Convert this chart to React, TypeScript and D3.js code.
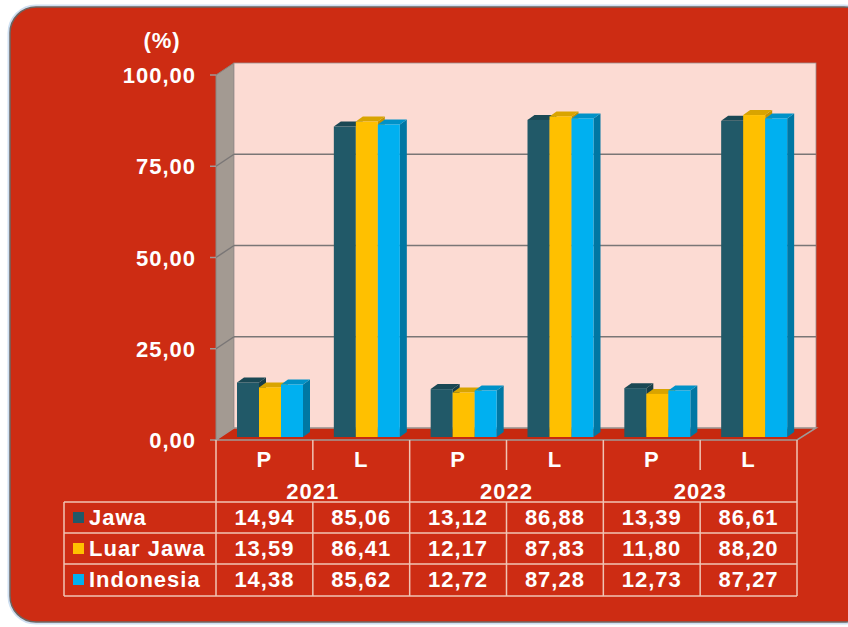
import React from 'react';
import * as d3 from 'd3';

const years = ['2021', '2022', '2023'];
const groups = ['P', 'L'];
const series = ['Jawa', 'Luar Jawa', 'Indonesia'];
const jawa = [14.94, 85.06, 13.12, 86.88, 13.39, 86.61];
const luarJawa = [13.59, 86.41, 12.17, 87.83, 11.80, 88.20];
const indonesia = [14.38, 85.62, 12.72, 87.28, 12.73, 87.27];
const yTicks = [0, 25, 50, 75, 100];

const colors = ['#215968', '#ffc000', '#00b0f0'];
const sideColors = ['#163e49', '#c49200', '#0077a3'];
const topColors = ['#1a4854', '#d9a400', '#0092c8'];

const locale = d3.formatLocale({ decimal: ',', thousands: '.', grouping: [3], currency: ['', ''] });
const fmt = locale.format('.2f');

const W = 848, H = 627;
const left = 216, right = 797, dX = 18, dY = -12;
const FONT = '"Liberation Sans", Arial, sans-serif';
const RED = '#cd2c13';
const LINE = '#f0c4b4';

export default function App() {
  const data = [jawa, luarJawa, indonesia];
  const cats = d3.range(6);
  const x = d3.scaleBand<number>().domain(cats).range([left, right]);
  const yFront = d3.scaleLinear().domain([0, 100]).range([440, 75]);
  const yBar = d3.scaleLinear().domain([0, 100]).range([437, 72]);
  const inner = d3.scaleBand<number>().domain([0, 1, 2]).range([21, 87]);
  const bw = inner.bandwidth();
  const bdx = 7, bdy = -5;
  const cw = x.bandwidth();

  const rowsY = [502, 533, 564, 596];
  const pts = (a: number[][]) => a.map(p => p.join(',')).join(' ');

  return (
    <svg width={W} height={H} style={{ position: 'absolute', left: 0, top: 0 }} fontFamily={FONT} fontWeight="bold" letterSpacing={1}>
      <rect width={W} height={H} fill="#ffffff" />
      <rect x={10} y={7} width={860} height={615} rx={26} fill="none" stroke="#cfe0f2" strokeWidth={5} />
      <rect x={10} y={7} width={860} height={615} rx={26} fill={RED} stroke="#6d6460" strokeWidth={1.5} />

      <text x={162} y={48} fill="#fff" fontSize={22} textAnchor="middle">(%)</text>

      {/* left wall */}
      <polygon points={pts([[left, yFront(100)], [left + dX, yFront(100) + dY], [left + dX, yFront(0) + dY], [left, yFront(0)]])} fill="#a39a92" stroke="#8a8580" strokeWidth={1} />
      {/* back wall */}
      <rect x={left + dX} y={yFront(100) + dY} width={right + 1 - left} height={yFront(0) - yFront(100)} fill="#fcdbd3" stroke="#9a9090" strokeWidth={0.8} />
      {/* floor */}
      <polygon points={pts([[left, yFront(0)], [left + dX, yFront(0) + dY], [right + dX + 1, yFront(0) + dY], [right, yFront(0)]])} fill="#c7290f" stroke="#a09a98" strokeWidth={1.5} />

      {yTicks.map(t => (
        <g key={t}>
          {t > 0 && t < 100 && (
            <>
              <line x1={left + dX} x2={right + dX + 1} y1={yFront(t) + dY} y2={yFront(t) + dY} stroke="#7a7676" strokeWidth={1.5} />
              <line x1={left} x2={left + dX} y1={yFront(t)} y2={yFront(t) + dY} stroke="#7a7676" strokeWidth={1.5} />
            </>
          )}
          <line x1={210} x2={left} y1={yFront(t)} y2={yFront(t)} stroke="#a09a98" strokeWidth={1.5} />
          <text x={196} y={yFront(t) + 8} fill="#fff" fontSize={22} textAnchor="end">{fmt(t)}</text>
        </g>
      ))}

      {/* bars */}
      {cats.map(c => (
        <g key={c}>
          {data.map((s, si) => {
            const bx = (x(c) as number) + (inner(si) as number);
            const top = yBar(s[c]);
            const base = yBar(0);
            return (
              <g key={si}>
                <polygon points={pts([[bx + bw, top], [bx + bw + bdx, top + bdy], [bx + bw + bdx, base + bdy], [bx + bw, base]])} fill={sideColors[si]} />
                <polygon points={pts([[bx, top], [bx + bdx, top + bdy], [bx + bw + bdx, top + bdy], [bx + bw, top]])} fill={topColors[si]} />
                <rect x={bx} y={top} width={bw} height={base - top} fill={colors[si]} />
              </g>
            );
          })}
        </g>
      ))}

      {/* table: category row */}
      {cats.map(c => (
        <text key={c} x={(x(c) as number) + cw / 2} y={467} fill="#fff" fontSize={22} textAnchor="middle">{groups[c % 2]}</text>
      ))}
      {cats.filter(c => c % 2 === 1).map(c => (
        <line key={c} x1={x(c) as number} x2={x(c) as number} y1={440} y2={470} stroke={LINE} strokeWidth={1.5} />
      ))}
      {years.map((yr, i) => (
        <g key={yr}>
          <line x1={x(i * 2) as number} x2={x(i * 2) as number} y1={440} y2={rowsY[0]} stroke={LINE} strokeWidth={1.5} />
          <text x={(x(i * 2) as number) + cw} y={499} fill="#fff" fontSize={22} textAnchor="middle">{yr}</text>
        </g>
      ))}
      <line x1={right} x2={right} y1={440} y2={rowsY[3]} stroke={LINE} strokeWidth={1.5} />

      {/* data rows */}
      {rowsY.map(yy => (
        <line key={yy} x1={64} x2={right} y1={yy} y2={yy} stroke={LINE} strokeWidth={1.5} />
      ))}
      <line x1={64} x2={64} y1={rowsY[0]} y2={rowsY[3]} stroke={LINE} strokeWidth={1.5} />
      {cats.map(c => (
        <line key={c} x1={x(c) as number} x2={x(c) as number} y1={rowsY[0]} y2={rowsY[3]} stroke={LINE} strokeWidth={1.5} />
      ))}
      {series.map((name, si) => {
        const base = rowsY[si] + 23;
        return (
          <g key={name}>
            <rect x={73} y={base - 13} width={11} height={11} fill={colors[si]} />
            <text x={89} y={base} fill="#fff" fontSize={22}>{name}</text>
            {cats.map(c => (
              <text key={c} x={(x(c) as number) + cw / 2} y={base} fill="#fff" fontSize={22} textAnchor="middle">{fmt(data[si][c])}</text>
            ))}
          </g>
        );
      })}
    </svg>
  );
}
